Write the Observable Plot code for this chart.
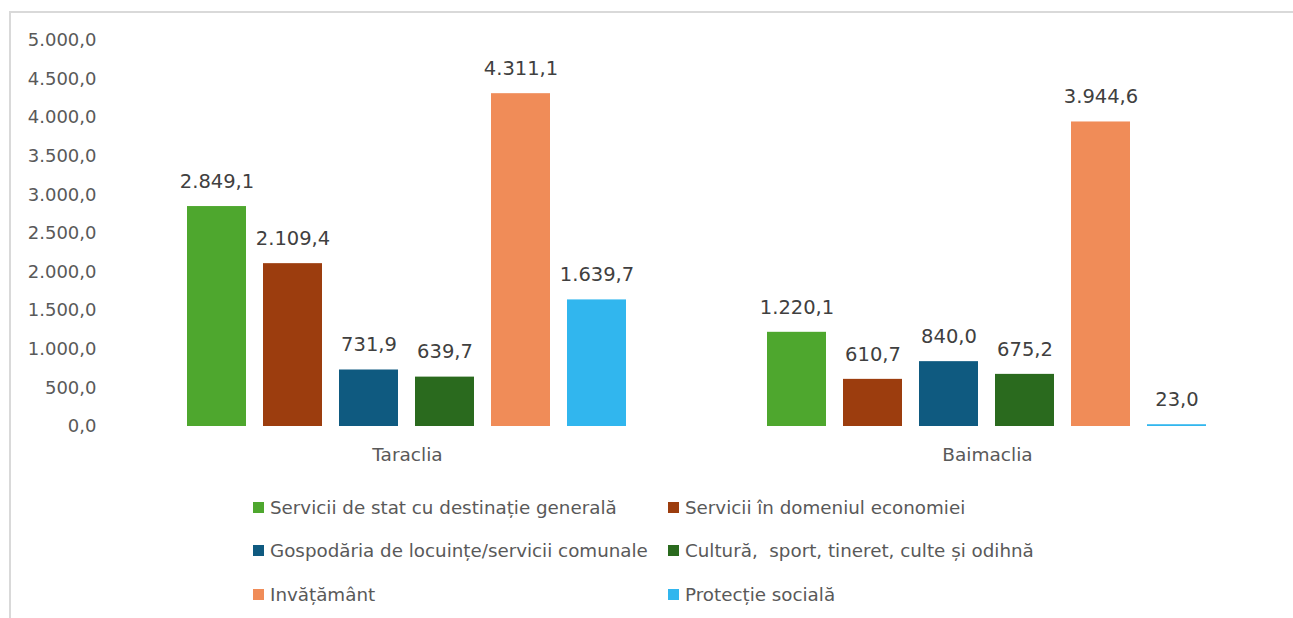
<!DOCTYPE html>
<html>
<head>
<meta charset="utf-8">
<script src="https://cdn.jsdelivr.net/npm/d3@7"></script>
<script src="https://cdn.jsdelivr.net/npm/@observablehq/plot@0.6"></script>
<style>
  html, body { margin: 0; padding: 0; background: #fff; width: 1293px; height: 618px; overflow: hidden; }
  body { position: relative; font-family: "DejaVu Sans", sans-serif; }
  #frame { position: absolute; left: 9px; top: 11px; width: 1300px; height: 620px; border: 2px solid #d9d9d9; box-sizing: border-box; }
  #chart { position: absolute; left: 0; top: 0; }
  #legend { position: absolute; left: 253px; top: 496px; display: grid; grid-template-columns: 415px 400px; grid-auto-rows: 43.5px; }
  .item { display: flex; align-items: center; font-size: 18.3px; color: #595959; white-space: pre; height: 22px; }
  .sw { width: 11px; height: 11px; margin-right: 6px; flex: none; }
</style>
</head>
<body>
<div id="frame"></div>
<div id="chart"></div>
<div id="legend"></div>
<script>
const regions = ["Taraclia", "Baimaclia"];
const categories = [
  "Servicii de stat cu destinație generală",
  "Servicii în domeniul economiei",
  "Gospodăria de locuințe/servicii comunale",
  "Cultură,  sport, tineret, culte și odihnă",
  "Invățământ",
  "Protecție socială"
];
const colors = ["#4EA72E", "#9C3D0E", "#0F5A80", "#2A6A1E", "#F08C58", "#31B6EE"];
const taracliaValues = [2849.1, 2109.4, 731.9, 639.7, 4311.1, 1639.7];
const baimacliaValues = [1220.1, 610.7, 840.0, 675.2, 3944.6, 23.0];
const yTicks = [0, 500, 1000, 1500, 2000, 2500, 3000, 3500, 4000, 4500, 5000];

const seriesByRegion = [taracliaValues, baimacliaValues];
const data = [];
regions.forEach((r, i) => categories.forEach((c, j) => data.push({region: r, category: c, value: seriesByRegion[i][j]})));

const loc = d3.formatLocale({decimal: ",", thousands: ".", grouping: [3]});
const fmt = loc.format(",.1f");

const chart = Plot.plot({
  width: 1293,
  height: 480,
  marginLeft: 117,
  marginRight: 16,
  marginTop: 40,
  marginBottom: 54,
  style: {fontFamily: "DejaVu Sans, sans-serif", background: "transparent", overflow: "visible"},
  fx: {domain: regions, padding: 0, label: null},
  x: {domain: categories, paddingInner: 0.22, paddingOuter: 0.88, axis: null},
  y: {domain: [0, 5000], ticks: yTicks, label: null},
  color: {domain: categories, range: colors},
  marks: [
    Plot.gridY(yTicks, {stroke: "#d9d9d9", strokeOpacity: 1, strokeWidth: 2, x1: 117, x2: 1277}),
    Plot.axisY(yTicks, {tickSize: 0, tickPadding: 21, tickFormat: fmt, fontSize: 18, fill: "#595959", label: null}),
    Plot.axisFx({anchor: "bottom", tickSize: 0, tickPadding: 21, fontSize: 18.5, fill: "#595959", label: null}),
    Plot.barY(data, {fx: "region", x: "category", y: "value", fill: "category"}),
    Plot.text(data, {fx: "region", x: "category", y: "value", text: d => fmt(d.value), dy: -25, fontSize: 19.5, fill: "#404040"})
  ]
});
document.getElementById("chart").appendChild(chart);

const legend = document.getElementById("legend");
categories.forEach((c, i) => {
  const it = document.createElement("div");
  it.className = "item";
  const sw = document.createElement("span");
  sw.className = "sw";
  sw.style.background = colors[i];
  const t = document.createElement("span");
  t.textContent = c;
  it.appendChild(sw); it.appendChild(t);
  legend.appendChild(it);
});
</script>
</body>
</html>
